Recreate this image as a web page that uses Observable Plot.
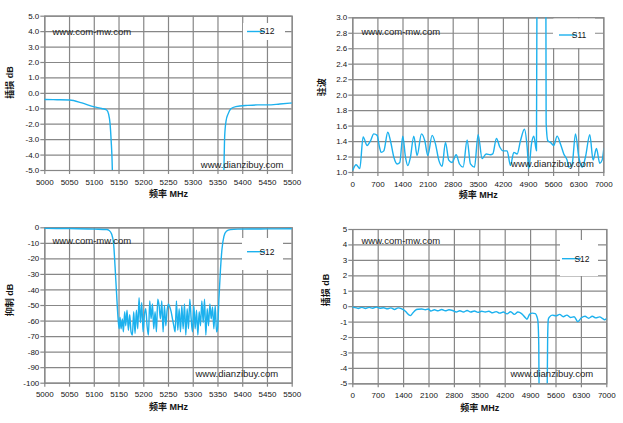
<!DOCTYPE html>
<html><head><meta charset="utf-8">
<script src="https://cdn.jsdelivr.net/npm/d3@7"></script>
<script src="https://cdn.jsdelivr.net/npm/@observablehq/plot@0.6"></script>
<style>
body{margin:0;background:#fff;}
#wrap{position:relative;width:623px;height:423px;background:#fff;overflow:hidden;}
#wrap svg{position:absolute;}
</style></head><body><div id="wrap"></div>
<script>
// ---- Data ----
// Panel 1: S12 insertion loss, 5000-5500 MHz
const nbFreq = [5000, 5025, 5050, 5075, 5100, 5115, 5125, 5129, 5132, 5134, 5136.5, 5138, 5145,
  5355, 5360, 5362, 5363.5, 5366.5, 5370.5, 5376, 5386, 5410, 5430, 5450, 5475, 5500];
const nbLoss = [-0.40, -0.41, -0.43, -0.62, -0.88, -0.98, -1.08, -1.35, -2.0, -3.0, -5.0, -8, -40,
  -40, -8, -5.0, -2.8, -1.76, -1.33, -1.0, -0.86, -0.78, -0.75, -0.75, -0.69, -0.62];

// Panel 2: S11 VSWR, 0-7000 MHz
const vswrFreq = [0, 93, 195, 288, 400, 493, 586, 679, 744, 790, 865, 976, 1050, 1143, 1236, 1311,
  1394, 1469, 1534, 1608, 1701, 1794, 1915, 2008, 2092, 2212, 2305, 2398, 2491, 2584, 2677, 2770,
  2882, 2975, 3077, 3188, 3281, 3393, 3495, 3607, 3718, 3839, 3904, 4006, 4099, 4192, 4304, 4397,
  4490, 4583, 4676, 4787, 4862, 4908, 4983, 5048, 5122, 5145, 5200, 5300, 5378, 5392, 5439, 5513,
  5605, 5698, 5791, 5884, 5977, 6024, 6117, 6210, 6303, 6396, 6489, 6609, 6702, 6795, 6888, 6953, 7000];
const vswrVal = [1.03, 1.10, 1.05, 1.46, 1.35, 1.41, 1.50, 1.48, 1.33, 1.26, 1.28, 1.52, 1.41, 1.20, 1.11, 1.13,
  1.47, 1.20, 1.09, 1.20, 1.47, 1.22, 1.50, 1.41, 1.22, 1.48, 1.37, 1.16, 1.08, 1.39, 1.16, 1.13,
  1.23, 1.11, 1.07, 1.42, 1.11, 1.07, 1.49, 1.18, 1.24, 1.23, 1.24, 1.44, 1.33, 1.28, 1.28, 1.09,
  1.26, 1.24, 1.41, 1.56, 1.33, 1.05, 1.37, 1.47, 1.28, 5, 12, 12, 5, 1.64, 1.41, 1.39,
  1.35, 1.47, 1.37, 1.24, 1.16, 1.07, 1.11, 1.50, 1.20, 1.07, 1.20, 1.49, 1.16, 1.31, 1.12, 1.16, 1.31];

// Panel 3: S12 rejection, 5000-5500 MHz
const rejFreq = [5000, 5050, 5100, 5125, 5130, 5135, 5139, 5142, 5145, 5148,
  5150.3, 5152, 5154.1, 5156.8, 5158.8, 5161.5, 5163.5, 5166.2, 5168.9, 5171.6, 5174.3, 5177, 5179.7,
  5182.4, 5185.1, 5187.8, 5190.5, 5193.2, 5195.9, 5198.6, 5201.3, 5204, 5206.7, 5209.4, 5212.1, 5214.8,
  5217.5, 5220.2, 5222.9, 5225.6, 5228.3, 5231, 5233.7, 5236.4, 5239.1, 5241.8, 5244.5, 5247.2, 5249.9,
  5252.6, 5255.3, 5258, 5260.7, 5263.4, 5266.1, 5268.8, 5271.5, 5274.2, 5276.9, 5279.6, 5282.3, 5285,
  5287.7, 5290.4, 5293.1, 5295.8, 5298.5, 5301.2, 5303.9, 5306.6, 5309.3, 5312, 5314.7, 5317.4, 5320.1,
  5322.8, 5325.5, 5328.2, 5330.9, 5333.6, 5336.3, 5339, 5341.7, 5344.4, 5347.1, 5349.1,
  5352, 5355, 5358, 5362, 5367, 5375, 5390, 5420, 5450, 5500];
const rejDb = [-0.4, -0.45, -0.85, -1.1, -1.7, -4, -10, -25, -42, -58,
  -65, -57.5, -65, -58.6, -67, -54, -63, -53, -66, -56, -67, -69, -54,
  -68, -53, -65, -45, -61, -48, -67, -56, -52, -63, -69, -47, -58.6,
  -49, -65, -54, -67, -46, -50, -58.6, -47, -67, -50, -63, -53, -49,
  -51, -54, -58.6, -63, -67, -47, -66, -52, -67, -50, -65, -49, -69,
  -52, -65, -46, -58.6, -67, -50, -65, -53, -69, -54, -63, -47, -61,
  -46, -69, -52, -63, -49, -58.6, -51, -65, -50, -67, -65,
  -45, -27, -14, -5.5, -2.2, -1.2, -0.85, -0.75, -0.72, -0.6];

// Panel 4: S12 insertion loss, 0-7000 MHz
const wbFreq = [0, 100, 150, 250, 350, 450, 550, 650, 750, 850, 950, 1050, 1150, 1250, 1350, 1450,
  1530, 1590, 1650, 1730, 1800, 1900, 2000, 2080, 2150, 2250, 2350, 2450, 2550, 2650, 2750, 2850,
  2950, 3050, 3150, 3250, 3350, 3450, 3550, 3650, 3750, 3850, 3950, 4050, 4150, 4250, 4350, 4450,
  4550, 4650, 4750, 4800, 4870, 4950, 5030, 5070, 5100, 5125, 5135, 5200, 5300, 5355, 5370, 5390,
  5430, 5500, 5600, 5700, 5800, 5900, 6000, 6100, 6200, 6300, 6400, 6500, 6600, 6700, 6800, 6900, 6950, 7000];
const wbLoss = [-0.03, -0.08, -0.12, -0.05, -0.12, -0.05, -0.1, -0.03, -0.1, -0.07, -0.14, -0.08, -0.18, -0.08, -0.15, -0.3,
  -0.5, -0.58, -0.42, -0.22, -0.17, -0.15, -0.2, -0.15, -0.28, -0.2, -0.27, -0.18, -0.27, -0.2, -0.25, -0.35,
  -0.27, -0.35, -0.25, -0.35, -0.28, -0.37, -0.3, -0.35, -0.3, -0.4, -0.32, -0.42, -0.35, -0.47, -0.33, -0.5,
  -0.35, -0.45, -0.7, -0.82, -0.5, -0.42, -0.45, -0.62, -0.9, -2.5, -6, -30, -30, -6, -2, -0.8,
  -0.65, -0.55, -0.6, -0.5, -0.65, -0.55, -0.7, -0.65, -0.97, -0.72, -0.62, -0.75, -0.62, -0.73, -0.66, -0.8, -0.85, -0.72];

// Tick labels
const bandTicks = [5000, 5050, 5100, 5150, 5200, 5250, 5300, 5350, 5400, 5450, 5500];
const wideTicks = [0, 700, 1400, 2100, 2800, 3500, 4200, 4900, 5600, 6300, 7000];
const lossTicks = [-5, -4, -3, -2, -1, 0, 1, 2, 3, 4, 5];
const vswrTicks = [1.0, 1.2, 1.4, 1.6, 1.8, 2.0, 2.2, 2.4, 2.6, 2.8, 3.0];
const rejTicks = [-100, -90, -80, -70, -60, -50, -40, -30, -20, -10, 0];

const FONT = "'Liberation Sans', Arial, 'Noto Sans CJK SC', sans-serif";
const LINE = "#1cb1ee";
const GRID = "#878787";
const TXT = "#141414";

const panels = [
  {freq: nbFreq, vals: nbLoss, left: 0, top: 0, width: 311, height: 210, margin: [15.7, 19.3, 40, 44.3],
   xDomain: [5000, 5500], xTicks: bandTicks, yDomain: [-5, 5], yTicks: lossTicks, yFmt: d => d.toFixed(1),
   yTitle: "插损 dB", yT: [-35, 5.4], xTdy: 26.7, wm1: [7.7, 12.3], wm2: [-8.7, -3],
   lg: {name: "S12", box: [243, 23, 42, 17], line: [247, 265, 31.5], tx: 267}},
  {freq: vswrFreq, vals: vswrVal, left: 311, top: 0, width: 312, height: 210, margin: [17.3, 19.7, 38, 41.3],
   xDomain: [0, 7000], xTicks: wideTicks, yDomain: [1, 3], yTicks: vswrTicks, yFmt: d => d.toFixed(1),
   yTitle: "驻波", yT: [-30.6, 1], xTdy: 25.7, wm1: [8.7, 10.7], wm2: [-10, -5.3],
   lg: {name: "S11", box: [242, 18.5, 42, 29.5], line: [248, 266, 35], tx: 268}},
  {freq: rejFreq, vals: rejDb, left: 0, top: 210, width: 311, height: 213, margin: [17.3, 19.3, 40.3, 44.3],
   xDomain: [5000, 5500], xTicks: bandTicks, yDomain: [-100, 0], yTicks: rejTicks, yFmt: d => String(d),
   yTitle: "抑制 dB", yT: [-34.3, 10.7], xTdy: 26.3, wm1: [7.7, 9.7], wm2: [-14, -6.7],
   lg: {name: "S12", box: [242, 28, 41, 32], line: [247, 265, 41.7], tx: 267}},
  {freq: wbFreq, vals: wbLoss, left: 311, top: 210, width: 312, height: 213, margin: [19, 16.7, 39.7, 41.3],
   xDomain: [0, 7000], xTicks: wideTicks, yDomain: [-5, 5], yTicks: lossTicks, yFmt: d => String(d),
   yTitle: "插损 dB", yT: [-26.3, -0.5], xTdy: 26.7, wm1: [8.7, 8], wm2: [-13.6, -7.3],
   lg: {name: "S12", box: [249, 30, 38, 36], line: [251, 270, 48.7], tx: 271}}
];

const wrap = document.getElementById("wrap");
for (const p of panels) {
  const data = p.freq.map((f, i) => ({f, v: p.vals[i]}));
  const [mt, mr, mb, ml] = p.margin;
  const svg = Plot.plot({
    width: p.width, height: p.height,
    marginTop: mt, marginRight: mr, marginBottom: mb, marginLeft: ml,
    style: {background: "transparent", fontFamily: FONT, fontSize: "8px", color: TXT, overflow: "visible"},
    x: {domain: p.xDomain, label: null},
    y: {domain: p.yDomain, label: null},
    marks: [
      Plot.gridX({ticks: p.xTicks, stroke: GRID, strokeOpacity: 1, strokeWidth: 1.2}),
      Plot.gridY({ticks: p.yTicks, stroke: GRID, strokeOpacity: 1, strokeWidth: 1.2}),
      Plot.frame({stroke: GRID, strokeWidth: 1.2}),
      Plot.axisX({ticks: p.xTicks, tickFormat: d => String(d), tickSize: 4, tickPadding: 4.5,
        stroke: GRID, strokeWidth: 1.2, fill: TXT, label: null}),
      Plot.axisY({ticks: p.yTicks, tickFormat: p.yFmt, tickSize: 4, tickPadding: 1.5,
        stroke: GRID, strokeWidth: 1.2, fill: TXT, label: null}),
      Plot.line(data, {x: "f", y: "v", stroke: LINE, strokeWidth: 1.4, curve: "monotone-x", clip: true}),
      Plot.text(["www.com-mw.com"], {text: d => d, frameAnchor: "top-left", textAnchor: "start",
        dx: p.wm1[0], dy: p.wm1[1], fontSize: 9.5, fill: "#222"}),
      Plot.text(["www.dianzibuy.com"], {text: d => d, frameAnchor: "bottom-right", textAnchor: "end",
        dx: p.wm2[0], dy: p.wm2[1], fontSize: 9.5, fill: "#222"}),
      Plot.text(["频率 MHz"], {text: d => d, frameAnchor: "bottom", dy: p.xTdy,
        fontSize: 9, fontWeight: "bold", fill: TXT}),
      Plot.text([p.yTitle], {text: d => d, frameAnchor: "left", rotate: -90, dx: p.yT[0], dy: p.yT[1],
        fontSize: 9, fontWeight: "bold", fill: TXT})
    ]
  });
  svg.style.left = p.left + "px";
  svg.style.top = p.top + "px";
  const s = d3.select(svg);
  const g = s.append("g");
  const [bx, by, bw, bh] = p.lg.box;
  g.append("rect").attr("x", bx).attr("y", by).attr("width", bw).attr("height", bh).attr("fill", "#fff");
  g.append("line").attr("x1", p.lg.line[0]).attr("x2", p.lg.line[1])
    .attr("y1", p.lg.line[2]).attr("y2", p.lg.line[2]).attr("stroke", LINE).attr("stroke-width", 1.4);
  g.append("text").attr("x", p.lg.tx).attr("y", p.lg.line[2]).attr("dy", "0.35em")
    .attr("font-size", 8.5).attr("fill", TXT).attr("font-family", FONT).text(p.lg.name);
  wrap.appendChild(svg);
}
</script>
</body></html>
